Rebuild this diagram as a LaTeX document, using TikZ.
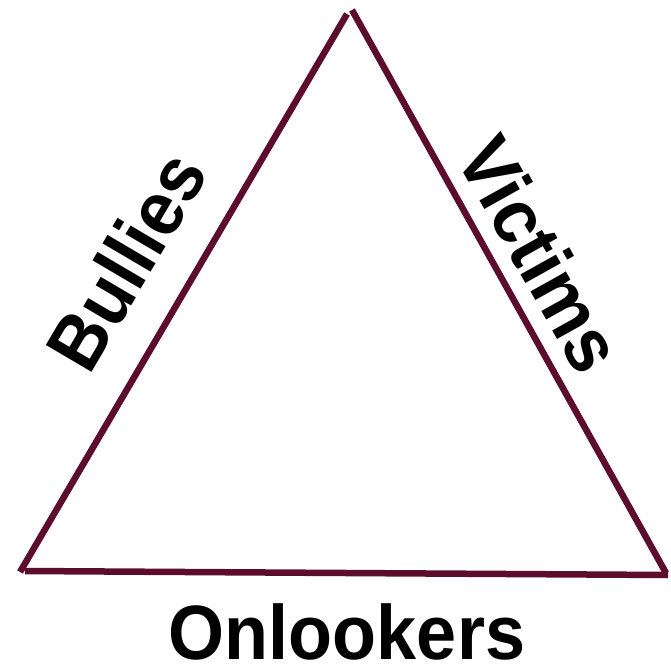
\documentclass[tikz,border=0pt]{standalone}
\usepackage{fontspec}
\setmainfont{Liberation Sans}
\usepackage{tikz}
\usetikzlibrary{positioning,calc}
\definecolor{maroon}{HTML}{5C0C2C}
\tikzset{
  side/.style={draw=maroon,line width=6.5pt},
  role/.style={font=\fontsize{72}{80}\selectfont\bfseries,inner sep=0pt,text=black},
}
\begin{document}
\begin{tikzpicture}[x=1pt,y=-1pt]
  \useasboundingbox (0,0) rectangle (671,671);
  % corners of the triangle (apex drawn as two meeting strokes)
  \coordinate (apexL) at (347,14);
  \coordinate (apexR) at (352,10);
  \coordinate (baseL) at (20,572);
  \coordinate (baseLb) at (25,571);
  \coordinate (baseR) at (668,575);
  \coordinate (baseRb) at (666,573);
  \draw[side] (baseL) -- (apexL);
  \draw[side] (apexR) -- (baseRb);
  \draw[side] (baseLb) -- (baseR);
  % the three roles
  \node[role,rotate=59.5,yscale=1.07] (bullies) at (126,261){Bullies};
  \node[role,rotate=-60.85,yscale=1.07] (victims) at (541,254){Victims};
  \node[role,yscale=1.07] (onlookers) at (347,632){Onlookers};
\end{tikzpicture}
\end{document}
